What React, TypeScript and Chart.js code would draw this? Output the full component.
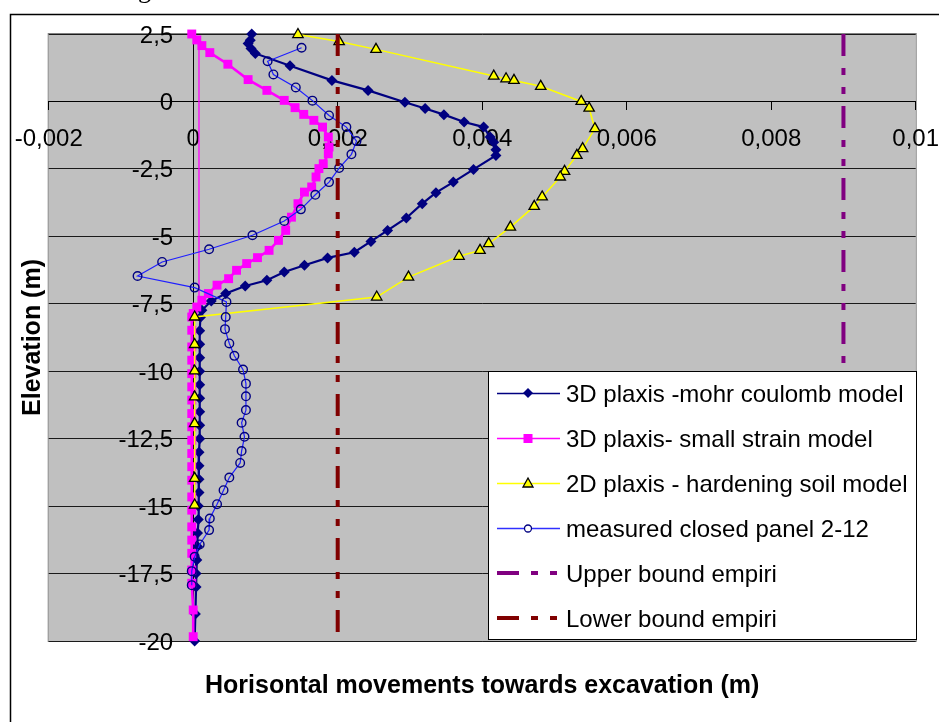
import React, { useEffect, useRef } from 'react';
import { Chart, registerables } from 'chart.js';

Chart.register(...registerables);

const FONT = '"Liberation Sans", Arial, sans-serif';

const X_MIN = -0.002;
const X_MAX = 0.01;
const X_STEP = 0.002;
const Y_MIN = -20;
const Y_MAX = 2.5;
const Y_STEP = 2.5;

const xTickValues = [-0.002, 0, 0.002, 0.004, 0.006, 0.008, 0.01];
const yTickValues = [2.5, 0, -2.5, -5, -7.5, -10, -12.5, -15, -17.5, -20];

const seriesNames = [
  '3D plaxis -mohr coulomb model',
  '3D plaxis- small strain model',
  '2D plaxis - hardening soil model',
  'measured closed panel 2-12',
  'Upper bound empiri',
  'Lower bound empiri',
];

const xTitle = 'Horisontal movements towards excavation (m)';
const yTitle = 'Elevation (m)';

// 3D plaxis - mohr coulomb
const mcX = [0.00081, 0.00079, 0.00076, 0.0008, 0.00086, 0.00134, 0.00192, 0.00242, 0.00293, 0.00321, 0.00347, 0.00375,
  0.00402, 0.00411, 0.00416, 0.00419, 0.00419, 0.00388, 0.0036, 0.00336, 0.00317, 0.00295, 0.00269, 0.00246, 0.00223,
  0.00186, 0.00154, 0.00126, 0.00102, 0.00072, 0.00045, 0.00025, 0.00012,
  0.0001, 0.00009, 0.00009, 0.00009, 0.00009, 0.00009, 0.00009, 0.00009, 0.00009, 0.00009, 0.00008, 0.00008, 0.00008,
  0.00008, 0.00007, 0.00007, 0.00006, 0.00006, 0.00005, 0.00004, 0.00004, 0.00003, 0.00002];
const mcY = [2.5, 2.27, 2.15, 1.96, 1.78, 1.32, 0.78, 0.41, -0.03, -0.26, -0.49, -0.76,
  -0.95, -1.32, -1.51, -1.79, -2.0, -2.52, -2.99, -3.38, -3.79, -4.32, -4.78, -5.19, -5.59,
  -5.8, -6.07, -6.32, -6.63, -6.84, -7.12, -7.4, -7.74,
  -8.0, -8.5, -9.0, -9.5, -10.0, -10.5, -11.0, -11.5, -12.0, -12.5, -13.0, -13.5, -14.0,
  -14.5, -15.0, -15.5, -16.0, -16.5, -17.0, -17.5, -18.0, -19.0, -20.0];

// 3D plaxis - small strain
const ssX = [-0.00002, 0.00005, 0.00012, 0.00023, 0.00048, 0.00076, 0.00102, 0.00126, 0.00141, 0.00153, 0.00167, 0.00179,
  0.00187, 0.00188, 0.00187, 0.0018, 0.00174, 0.0017, 0.00164, 0.00154, 0.00145, 0.00136, 0.00128, 0.00118, 0.00105,
  0.00089, 0.00074, 0.0006, 0.00049, 0.00033, 0.00021, 0.00012, 0.00005, 0.0,
  -0.00002, -0.00002, -0.00002, -0.00002, -0.00002, -0.00002, -0.00002, -0.00002, -0.00002, -0.00002, -0.00002,
  -0.00002, -0.00002, -0.00002, -0.00002, -0.00002, -0.00002, -0.00002, -0.00002, -0.00002, 0.0, 0.0];
const ssY = [2.5, 2.28, 2.07, 1.81, 1.38, 0.81, 0.41, 0.04, -0.23, -0.48, -0.7, -0.95,
  -1.32, -1.69, -1.94, -2.31, -2.49, -2.8, -3.17, -3.36, -3.79, -4.29, -4.78, -5.15, -5.52,
  -5.79, -6.01, -6.26, -6.57, -6.81, -7.12, -7.37, -7.62, -7.86,
  -7.99, -8.48, -9.1, -9.59, -10.09, -10.58, -11.07, -11.57, -12.06, -12.56, -13.05,
  -13.54, -14.04, -14.66, -15.15, -15.77, -16.26, -16.75, -17.37, -17.86, -18.85, -19.84];

// thin magenta wall line (no legend entry)
const wallX = [0.00008, 0.00008];
const wallY = [2.2, -7.3];

// 2D plaxis - hardening soil
const hsX = [0.00145, 0.00202, 0.00253, 0.00416, 0.00433, 0.00444, 0.00481, 0.00537, 0.00548, 0.00556, 0.00539, 0.00531,
  0.00514, 0.00508, 0.00483, 0.00472, 0.00439, 0.00409, 0.00397, 0.00368, 0.00298, 0.00254,
  0.00002, 0.00002, 0.00002, 0.00002, 0.00002, 0.00002, 0.00002];
const hsY = [2.48, 2.22, 1.93, 0.94, 0.84, 0.78, 0.56, 0.0, -0.25, -1.01, -1.75, -2.0,
  -2.59, -2.8, -3.54, -3.89, -4.66, -5.27, -5.52, -5.74, -6.51, -7.25,
  -7.99, -9.01, -9.99, -10.95, -11.94, -13.97, -14.96];

// measured closed panel 2-12
const msX = [0.0015, 0.00103, 0.00111, 0.00142, 0.00165, 0.00188, 0.00212, 0.00226, 0.00219, 0.00202, 0.00188, 0.00169,
  0.00149, 0.00126, 0.00082, 0.00022, -0.00043, -0.00077, 0.00002, 0.00046, 0.00045, 0.00044, 0.0005, 0.00057,
  0.00069, 0.00073, 0.00073, 0.00073, 0.00067, 0.00071, 0.00067, 0.00065, 0.0005, 0.00042, 0.00033, 0.00023,
  0.00022, 0.00009, 0.00002, -0.00002, -0.00002];
const msY = [1.99, 1.49, 1.0, 0.52, 0.03, -0.52, -0.95, -1.47, -1.96, -2.47, -2.99, -3.46,
  -4.0, -4.43, -4.96, -5.48, -5.95, -6.47, -6.9, -7.43, -7.99, -8.44, -8.97, -9.43,
  -9.94, -10.46, -10.93, -11.44, -11.91, -12.43, -12.96, -13.4, -13.94, -14.41, -14.93, -15.46,
  -15.89, -16.42, -16.88, -17.41, -17.93];

// empirical bounds
const upperX = [0.009, 0.009];
const upperY = [2.5, -20];
const lowerX = [0.002, 0.002];
const lowerY = [2.5, -20];

const BOUND_DASH = [22, 12, 7, 12, 7, 12];

const pts = (xs: number[], ys: number[]) => xs.map((x, i) => ({ x, y: ys[i] }));
const fmt = (v: number) => String(Math.round(v * 1e6) / 1e6).replace('.', ',');

const decorPlugin = {
  id: 'decor',
  beforeDraw(chart: any) {
    const { ctx, chartArea } = chart;
    const { left, top, right, bottom } = chartArea;
    ctx.save();
    ctx.fillStyle = '#ffffff';
    ctx.fillRect(0, 0, chart.width, chart.height);
    // outer frame
    ctx.strokeStyle = '#000';
    ctx.lineWidth = 1.5;
    ctx.beginPath();
    ctx.moveTo(10.5, chart.height + 5);
    ctx.lineTo(10.5, 14.5);
    ctx.lineTo(chart.width + 5, 14.5);
    ctx.stroke();
    // caption fragment above the frame
    ctx.fillStyle = '#000';
    ctx.font = '26px "Liberation Serif", serif';
    ctx.textBaseline = 'alphabetic';
    ctx.fillText('g', 138, -2);
    // plot area
    ctx.fillStyle = '#c0c0c0';
    ctx.fillRect(left, top, right - left, bottom - top);
    ctx.strokeStyle = '#808080';
    ctx.lineWidth = 1;
    ctx.strokeRect(left - 0.5, top - 0.5, right - left + 1, bottom - top + 1);
    ctx.restore();
  },
  beforeDatasetsDraw(chart: any) {
    const { ctx } = chart;
    const xs = chart.scales.x;
    const ys = chart.scales.y;
    const x0 = xs.getPixelForValue(0);
    const y0 = ys.getPixelForValue(0);
    ctx.save();
    ctx.fillStyle = '#000';
    ctx.font = `24px ${FONT}`;
    ctx.textBaseline = 'alphabetic';
    ctx.textAlign = 'right';
    yTickValues.forEach((v) => {
      ctx.fillText(fmt(v), x0 - 20, ys.getPixelForValue(v) + 8.6);
    });
    ctx.textAlign = 'center';
    xTickValues.forEach((v) => {
      ctx.fillText(fmt(v), xs.getPixelForValue(v), y0 + 44.6);
    });
    ctx.restore();
  },
  afterDraw(chart: any) {
    const { ctx, chartArea } = chart;
    const { left, top, right, bottom } = chartArea;
    ctx.save();
    // axis titles
    ctx.fillStyle = '#000';
    ctx.font = `bold 25px ${FONT}`;
    ctx.textAlign = 'center';
    ctx.textBaseline = 'alphabetic';
    ctx.fillText(xTitle, (left + right) / 2, 693);
    ctx.save();
    ctx.translate(40, (top + bottom) / 2);
    ctx.rotate(-Math.PI / 2);
    ctx.fillText(yTitle, 0, 0);
    ctx.restore();

    // legend
    const bx = 488.5, by = 371.5, bw = 428, bh = 268;
    ctx.fillStyle = '#ffffff';
    ctx.fillRect(bx, by, bw, bh);
    ctx.strokeStyle = '#000';
    ctx.lineWidth = 1;
    ctx.strokeRect(bx, by, bw, bh);

    const sx1 = 497, sx2 = 560, mx = 528, tx = 566;
    ctx.font = `24px ${FONT}`;
    ctx.textAlign = 'left';
    seriesNames.forEach((name, i) => {
      const y = 393 + i * 45;
      ctx.save();
      if (i < 4) {
        const colors = ['#000080', '#ff00ff', '#ffff00', '#3030ff'];
        ctx.strokeStyle = colors[i];
        ctx.lineWidth = 1.5;
        ctx.beginPath();
        ctx.moveTo(sx1, y + 0.5);
        ctx.lineTo(sx2, y + 0.5);
        ctx.stroke();
        if (i === 0) {
          ctx.fillStyle = '#000080';
          ctx.beginPath();
          ctx.moveTo(mx, y - 5);
          ctx.lineTo(mx + 5, y);
          ctx.lineTo(mx, y + 5);
          ctx.lineTo(mx - 5, y);
          ctx.closePath();
          ctx.fill();
        } else if (i === 1) {
          ctx.fillStyle = '#ff00ff';
          ctx.fillRect(mx - 4.5, y - 4, 9, 9);
        } else if (i === 2) {
          ctx.fillStyle = '#ffff00';
          ctx.strokeStyle = '#000';
          ctx.lineWidth = 1.3;
          ctx.beginPath();
          ctx.moveTo(mx, y - 5);
          ctx.lineTo(mx + 5, y + 4);
          ctx.lineTo(mx - 5, y + 4);
          ctx.closePath();
          ctx.fill();
          ctx.stroke();
        } else {
          ctx.fillStyle = '#ffffff';
          ctx.strokeStyle = '#000080';
          ctx.lineWidth = 1.3;
          ctx.beginPath();
          ctx.arc(mx, y + 0.5, 3.5, 0, Math.PI * 2);
          ctx.fill();
          ctx.stroke();
        }
      } else {
        ctx.strokeStyle = i === 4 ? '#800080' : '#800000';
        ctx.lineWidth = 4;
        ctx.setLineDash(BOUND_DASH);
        ctx.beginPath();
        ctx.moveTo(sx1, y);
        ctx.lineTo(sx2, y);
        ctx.stroke();
      }
      ctx.restore();
      ctx.fillStyle = '#000';
      ctx.fillText(name, tx, y + 8.6);
    });
    ctx.restore();
  },
};

export default function App() {
  const canvasRef = useRef<HTMLCanvasElement | null>(null);

  useEffect(() => {
    const canvas = canvasRef.current;
    if (!canvas) return;
    const chart = new Chart(canvas, {
      type: 'scatter',
      data: {
        datasets: [
          {
            label: seriesNames[0],
            data: pts(mcX, mcY),
            showLine: true,
            borderColor: '#000080',
            backgroundColor: '#000080',
            borderWidth: 2.2,
            pointStyle: 'rectRot',
            pointRadius: 5.5,
            pointBorderWidth: 0,
            pointBackgroundColor: '#000080',
            order: 7,
            clip: false,
          } as any,
          {
            label: seriesNames[1],
            data: pts(ssX, ssY),
            showLine: true,
            borderColor: '#ff00ff',
            backgroundColor: '#ff00ff',
            borderWidth: 2.6,
            pointStyle: 'rect',
            pointRadius: 6.3,
            pointBorderWidth: 0,
            pointBackgroundColor: '#ff00ff',
            order: 6,
            clip: false,
          } as any,
          {
            label: 'wall',
            data: pts(wallX, wallY),
            showLine: true,
            borderColor: '#ff00ff',
            borderWidth: 1.3,
            pointRadius: 0,
            order: 6,
            clip: false,
          } as any,
          {
            label: seriesNames[2],
            data: pts(hsX, hsY),
            showLine: true,
            borderColor: '#ffff00',
            backgroundColor: '#ffff00',
            borderWidth: 1.5,
            pointStyle: 'triangle',
            pointRadius: 6,
            pointBorderWidth: 1.3,
            pointBorderColor: '#000',
            pointBackgroundColor: '#ffff00',
            order: 5,
            clip: false,
          } as any,
          {
            label: seriesNames[3],
            data: pts(msX, msY),
            showLine: true,
            borderColor: '#1e1eff',
            backgroundColor: 'rgba(0,0,0,0)',
            borderWidth: 1.2,
            pointStyle: 'circle',
            pointRadius: 4.3,
            pointBorderWidth: 1.4,
            pointBorderColor: '#000080',
            pointBackgroundColor: 'rgba(0,0,0,0)',
            order: 4,
            clip: false,
          } as any,
          {
            label: seriesNames[4],
            data: pts(upperX, upperY),
            showLine: true,
            borderColor: '#800080',
            borderWidth: 4,
            borderDash: BOUND_DASH,
            pointRadius: 0,
            order: 3,
            clip: false,
          } as any,
          {
            label: seriesNames[5],
            data: pts(lowerX, lowerY),
            showLine: true,
            borderColor: '#800000',
            borderWidth: 4,
            borderDash: BOUND_DASH,
            pointRadius: 0,
            order: 2,
            clip: false,
          } as any,
        ],
      },
      options: {
        responsive: false,
        maintainAspectRatio: false,
        animation: false,
        events: [],
        layout: { padding: { left: 48.7, top: 34, right: 23.3, bottom: 81 } },
        plugins: {
          legend: { display: false },
          tooltip: { enabled: false },
          title: { display: false },
        },
        elements: { line: { tension: 0 } },
        scales: {
          x: {
            type: 'linear',
            min: X_MIN,
            max: X_MAX,
            position: { y: 0 } as any,
            ticks: { stepSize: X_STEP, display: false, autoSkip: false },
            grid: { drawOnChartArea: false, drawTicks: true, tickLength: 8, color: '#000' },
            border: { display: true, color: '#000', width: 1 },
            afterFit: (s: any) => { s.paddingLeft = 0; s.paddingRight = 0; },
          } as any,
          y: {
            type: 'linear',
            min: Y_MIN,
            max: Y_MAX,
            position: { x: 0 } as any,
            ticks: { stepSize: Y_STEP, display: false, autoSkip: false },
            grid: { drawOnChartArea: true, drawTicks: true, tickLength: 8, color: '#1a1a1a', lineWidth: 1 },
            border: { display: true, color: '#000', width: 1 },
            afterFit: (s: any) => { s.paddingTop = 0; s.paddingBottom = 0; },
          } as any,
        },
      },
      plugins: [decorPlugin],
    });
    return () => chart.destroy();
  }, []);

  return (
    <div style={{ position: 'fixed', left: 0, top: 0, width: 939, height: 722, overflow: 'hidden', background: '#fff' }}>
      <canvas ref={canvasRef} width={939} height={722} style={{ display: 'block', width: 939, height: 722 }} />
    </div>
  );
}
